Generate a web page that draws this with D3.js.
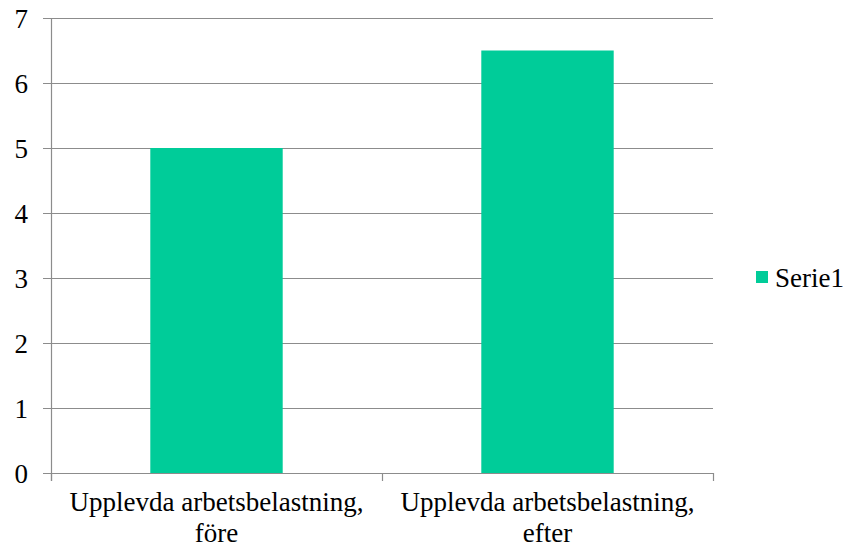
<!DOCTYPE html>
<html>
<head>
<meta charset="utf-8">
<script src="https://cdn.jsdelivr.net/npm/d3@7"></script>
<style>
  body { margin: 0; background: #fff; }
</style>
</head>
<body>
<svg id="chart"></svg>
<script>
(function () {

  var width = 843, height = 547;
  var fontSize = 27;

  // data
  var categories = [
    ['Upplevda arbetsbelastning,', 'före'],
    ['Upplevda arbetsbelastning,', 'efter']
  ];
  var values = [5, 6.5];
  var yTicks = [0, 1, 2, 3, 4, 5, 6, 7];
  var seriesName = 'Serie1';

  var margin = { top: 18, left: 51, right: 130, bottom: 74 };
  var plotW = width - margin.left - margin.right;   // 662
  var plotH = height - margin.top - margin.bottom;  // 455

  var svg = d3.select('#chart')
    .attr('width', width)
    .attr('height', height);

  var x = d3.scaleBand()
    .domain(d3.range(categories.length))
    .range([margin.left, margin.left + plotW])
    .paddingInner(0.6)
    .paddingOuter(0.3);

  var xOuter = d3.scaleBand()
    .domain(d3.range(categories.length))
    .range([margin.left, margin.left + plotW]);

  var y = d3.scaleLinear()
    .domain([0, 7])
    .range([margin.top + plotH, margin.top]);

  // texts first, graphics get inserted underneath afterwards
  function label(tx, ty, anchor, str) {
    var t = svg.append('text')
      .attr('x', tx)
      .attr('y', ty)
      .attr('font-family', "'Liberation Serif'")
      .attr('font-size', fontSize)
      .text(str);
    var w = t.node().getComputedTextLength();
    if (anchor === 'end') t.attr('x', tx - w);
    if (anchor === 'middle') t.attr('x', tx - w / 2);
  }

  // category labels
  categories.forEach(function (lines, i) {
    var cx = xOuter(i) + xOuter.bandwidth() / 2;
    lines.forEach(function (s, j) { label(cx, 511 + j * 31, 'middle', s); });
  });

  // y labels
  yTicks.forEach(function (d) { label(28, y(d) + 10, 'end', String(d)); });

  // legend text
  label(775, 287, 'start', seriesName);

  var g = svg.insert('g', ':first-child');

  // gridlines
  g.append('g')
    .selectAll('line')
    .data(yTicks)
    .join('line')
    .attr('x1', margin.left - 8)
    .attr('x2', margin.left + plotW)
    .attr('y1', function (d) { return Math.round(y(d)) + 0.5; })
    .attr('y2', function (d) { return Math.round(y(d)) + 0.5; })
    .attr('stroke', '#8c8c8c')
    .attr('stroke-width', 1.2);

  // bars
  g.append('g')
    .selectAll('rect')
    .data(values)
    .join('rect')
    .attr('x', function (d, i) { return x(i); })
    .attr('y', function (d) { return y(d); })
    .attr('width', x.bandwidth())
    .attr('height', function (d) { return y(0) - y(d); })
    .attr('fill', '#00cc99');

  // axes lines
  g.append('line')
    .attr('x1', margin.left + 0.5).attr('x2', margin.left + 0.5)
    .attr('y1', margin.top).attr('y2', y(0) + 8)
    .attr('stroke', '#8c8c8c').attr('stroke-width', 1.2);

  g.append('line')
    .attr('x1', margin.left).attr('x2', margin.left + plotW)
    .attr('y1', Math.round(y(0)) + 0.5).attr('y2', Math.round(y(0)) + 0.5)
    .attr('stroke', '#8c8c8c').attr('stroke-width', 1.2);

  // x ticks at category boundaries
  var bounds = d3.range(categories.length + 1).map(function (i) {
    return i < categories.length ? xOuter(i) : margin.left + plotW;
  });
  g.append('g')
    .selectAll('line')
    .data(bounds)
    .join('line')
    .attr('x1', function (d) { return Math.round(d) + 0.5; })
    .attr('x2', function (d) { return Math.round(d) + 0.5; })
    .attr('y1', y(0))
    .attr('y2', y(0) + 8)
    .attr('stroke', '#8c8c8c')
    .attr('stroke-width', 1.2);

  // legend swatch
  g.append('rect')
    .attr('x', 756).attr('y', 271)
    .attr('width', 12).attr('height', 12)
    .attr('fill', '#00cc99');

})();
</script>
</body>
</html>
